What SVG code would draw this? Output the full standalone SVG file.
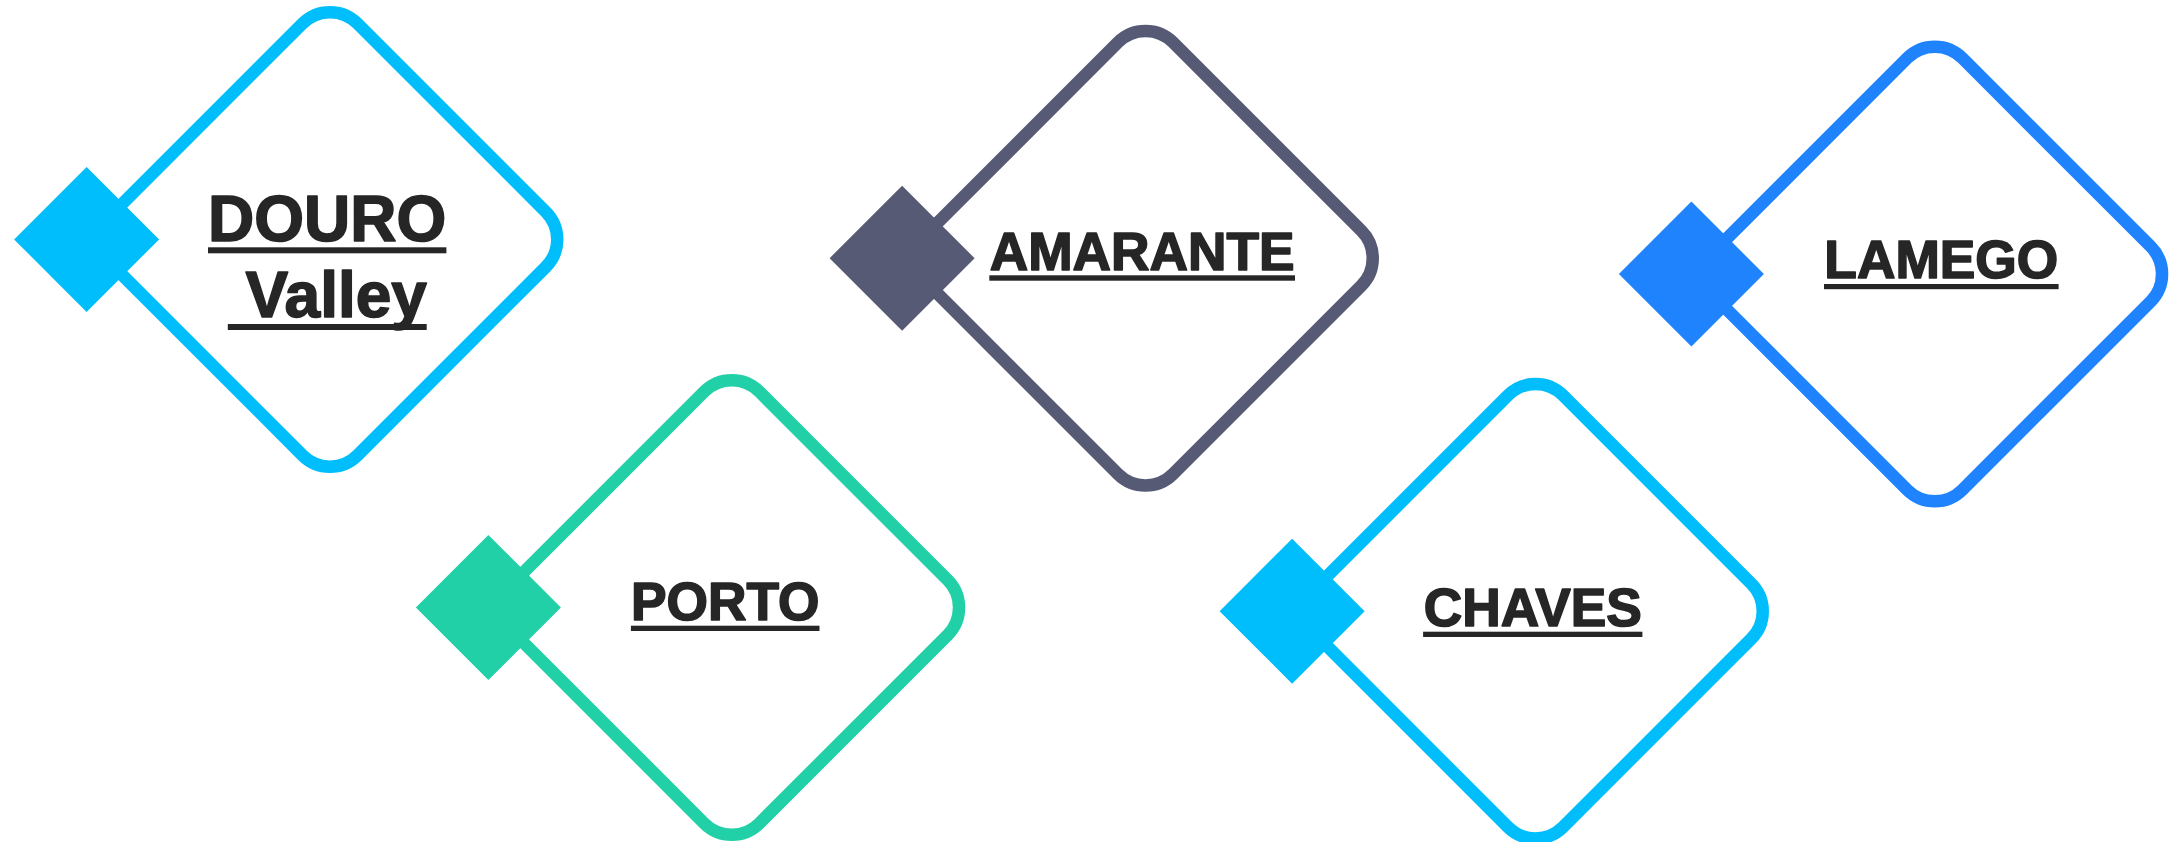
<svg xmlns="http://www.w3.org/2000/svg" xmlns:xlink="http://www.w3.org/1999/xlink" width="2173" height="842" viewBox="0 0 2173 842">
  <style>
    .lbl { font-family: "Liberation Sans", Arial, sans-serif; font-weight: bold; fill: #262626; stroke: #262626; stroke-width: 1.6; stroke-linejoin: round; text-anchor: middle; }
    .big { font-size: 64px; }
    .med { font-size: 53.3px; }
    .ul { fill: #262626; }
    .frame { fill: none; stroke: currentColor; stroke-width: 12.5; }
    .knob { fill: currentColor; stroke: none; }
  </style>
  <defs>
    <g id="shape">
      <rect class="frame" x="-172.1" y="-172.1" width="344.2" height="344.2" rx="39" ry="39" transform="rotate(45)"/>
      <polygon class="knob" points="-315.9,0 -243.4,-72.5 -170.9,0 -243.4,72.5"/>
    </g>
  </defs>
  <rect x="0" y="0" width="2173" height="842" fill="#ffffff"/>
  <g id="connectors"/>
  <g id="node-douro">
    <use xlink:href="#shape" href="#shape" transform="translate(330,239.4)" style="color:#00BEFB"/>
    <text class="lbl big" x="327.2" y="241">DOURO</text>
    <rect class="ul" x="208" y="247.3" width="238.4" height="6"/>
    <text class="lbl big" x="327.3" y="317.3" xml:space="preserve"> Valley</text>
    <rect class="ul" x="227.8" y="324" width="198.9" height="6"/>
  </g>
  <g id="node-amarante">
    <use xlink:href="#shape" href="#shape" transform="translate(1145.5,258.2)" style="color:#575A75"/>
    <text class="lbl med" x="1142.2" y="270">AMARANTE</text>
    <rect class="ul" x="989.3" y="275.3" width="305.7" height="5.4"/>
  </g>
  <g id="node-lamego">
    <use xlink:href="#shape" href="#shape" transform="translate(1934.8,274)" style="color:#1F83FE"/>
    <text class="lbl med" x="1941.3" y="278.3">LAMEGO</text>
    <rect class="ul" x="1824" y="284" width="234.6" height="5.2"/>
  </g>
  <g id="node-porto">
    <use xlink:href="#shape" href="#shape" transform="translate(731.8,607.5)" style="color:#21D0A6"/>
    <text class="lbl med" x="725.2" y="620">PORTO</text>
    <rect class="ul" x="630.9" y="625.7" width="188.6" height="5.3"/>
  </g>
  <g id="node-chaves">
    <use xlink:href="#shape" href="#shape" transform="translate(1535.5,611.2)" style="color:#00BEFB"/>
    <text class="lbl med" x="1532.8" y="625.7">CHAVES</text>
    <rect class="ul" x="1423.1" y="631.7" width="219.3" height="5.3"/>
  </g>
</svg>
